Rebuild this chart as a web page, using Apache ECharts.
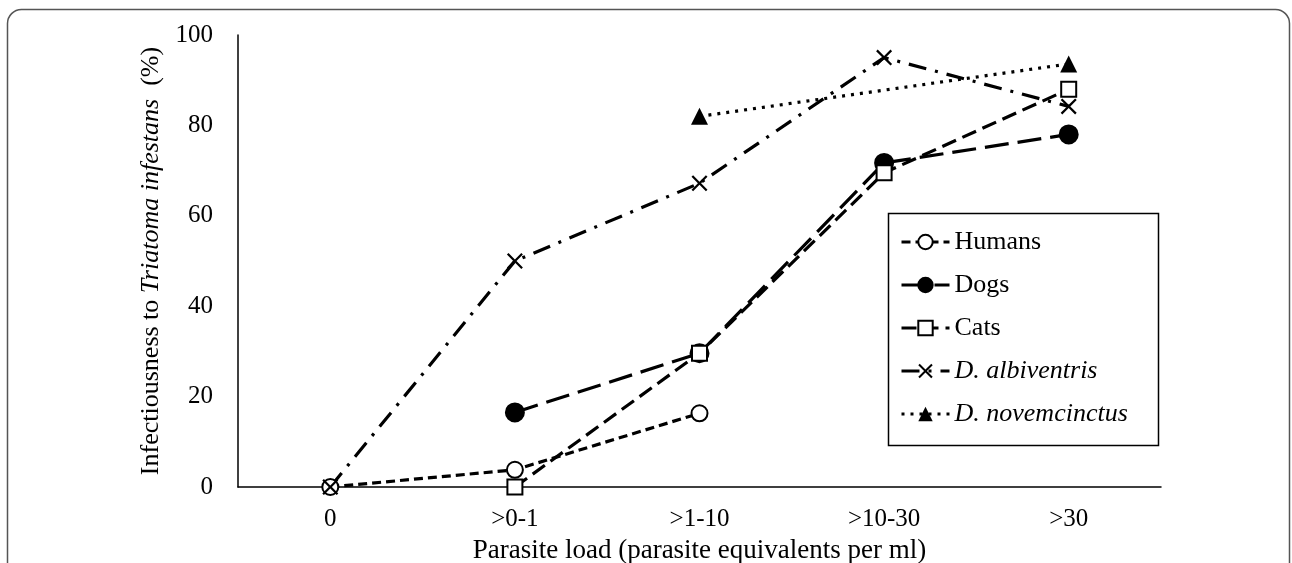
<!DOCTYPE html>
<html>
<head>
<meta charset="utf-8">
<script src="https://cdn.jsdelivr.net/npm/echarts@6/dist/echarts.min.js"></script>
<style>
  html, body { margin: 0; padding: 0; background: #fff; }
  #chart { width: 1292px; height: 563px; }
</style>
</head>
<body>
<div id="chart"></div>
<script>
// categories on the x axis
const loadCats = ['0', '>0-1', '>1-10', '>10-30', '>30'];
const yTicks = [0, 20, 40, 60, 80, 100];

// % infectiousness per host, null = not measured
const humans = [0, 3.8, 16.3, null, null];
const dogs = [null, 16.5, 29.6, 71.7, 78];
const cats = [null, 0, 29.6, 69.5, 88];
const albiventris = [0, 50, 67.2, 95, 84.2];
const novemcinctus = [null, null, 82, null, 93.6];

const SERIF = '"Liberation Serif", "DejaVu Serif", serif';
const crossPath = 'path://M0,1 L1,0 L5,4 L9,0 L10,1 L6,5 L10,9 L9,10 L5,6 L1,10 L0,9 L4,5 Z';

var myChart = echarts.init(document.getElementById('chart'));

function lineSeries(name, data, symbol, size, fill, dash, extra) {
  var s = {
    name: name,
    type: 'line',
    data: data,
    connectNulls: true,
    symbol: symbol,
    symbolSize: size,
    showAllSymbol: true,
    animation: false,
    lineStyle: { color: '#000', width: 3.2, type: dash, cap: 'butt' },
    itemStyle: { color: fill, borderColor: '#000', borderWidth: 2 }
  };
  return Object.assign(s, extra || {});
}

var option = {
  backgroundColor: '#fff',
  animation: false,
  graphic: [{
    type: 'rect',
    shape: { x: 7.5, y: 9.5, width: 1282, height: 620, r: 14 },
    style: { fill: 'none', stroke: '#555', lineWidth: 1.5 },
    silent: true
  }, {
    type: 'rect',
    shape: { x: 888.5, y: 213.5, width: 270, height: 232 },
    style: { fill: '#fff', stroke: '#000', lineWidth: 1.5 },
    z: 5,
    silent: true
  }],
  grid: { left: 238, right: 131, top: 35, bottom: 76, outerBoundsMode: 'none', containLabel: false },
  legend: {
    orient: 'vertical',
    left: 895,
    top: 224,
    itemWidth: 48,
    itemHeight: 18,
    itemGap: 17,
    z: 10,
    lineStyle: { width: 3 },
    itemStyle: { borderWidth: 2 },
    textStyle: {
      fontFamily: SERIF, fontSize: 26, color: '#000', lineHeight: 26,
      rich: { i: { fontFamily: SERIF, fontSize: 26, fontStyle: 'italic', color: '#000' } }
    },
    formatter: function (name) {
      return name.indexOf('D.') === 0 ? '{i|' + name + '}' : name;
    },
    data: ['Humans', 'Dogs', 'Cats', 'D. albiventris', 'D. novemcinctus']
  },
  xAxis: {
    type: 'category',
    data: loadCats,
    boundaryGap: true,
    name: 'Parasite load (parasite equivalents per ml)',
    nameLocation: 'middle',
    nameGap: 50,
    nameTextStyle: { fontFamily: SERIF, fontSize: 27, color: '#000' },
    axisLine: { lineStyle: { color: '#000', width: 1.5 } },
    axisTick: { show: false },
    axisLabel: { fontFamily: SERIF, fontSize: 25, color: '#000', margin: 20 },
    splitLine: { show: false }
  },
  yAxis: {
    type: 'value',
    min: yTicks[0],
    max: yTicks[yTicks.length - 1],
    interval: 20,
    name: '{n|Infectiousness to }{i|Triatoma infestans}{n|  (%)}',
    nameLocation: 'middle',
    nameRotate: 90,
    nameGap: 70,
    nameTextStyle: {
      fontFamily: SERIF, fontSize: 26, color: '#000',
      rich: {
        n: { fontFamily: SERIF, fontSize: 26, color: '#000' },
        i: { fontFamily: SERIF, fontSize: 26, fontStyle: 'italic', color: '#000' }
      }
    },
    axisLine: { show: true, lineStyle: { color: '#000', width: 1.5 } },
    axisTick: { show: false },
    axisLabel: { fontFamily: SERIF, fontSize: 25, color: '#000', margin: 25 },
    splitLine: { show: false }
  },
  series: [
    lineSeries('Humans', humans, 'circle', 16, '#fff', [9, 5]),
    lineSeries('Dogs', dogs, 'circle', 18, '#000', [24, 9]),
    lineSeries('Cats', cats, 'rect', 15, '#fff', [15, 7]),
    lineSeries('D. albiventris', albiventris, crossPath, 16, '#000', [18, 9, 3, 9], { itemStyle: { color: '#000', borderWidth: 0 } }),
    lineSeries('D. novemcinctus', novemcinctus, 'triangle', 17, '#000', [3, 6], { itemStyle: { color: '#000', borderWidth: 0 } })
  ]
};
myChart.setOption(option);
</script>
</body>
</html>
